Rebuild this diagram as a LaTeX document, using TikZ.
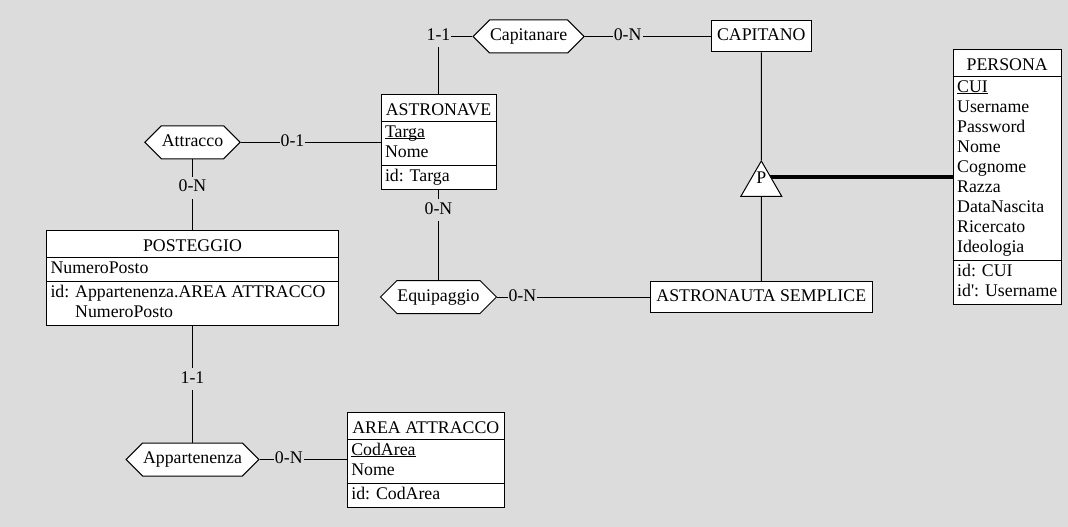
\documentclass[tikz,border=0pt]{standalone}
\usepackage{fontspec}
\setmainfont{Liberation Serif}
\usetikzlibrary{shapes.multipart, shapes.symbols, shapes.geometric}
\definecolor{canvas}{HTML}{DCDCDC}
\newcommand{\erfont}{\fontsize{17.8}{20}\selectfont}
\newcommand{\hdstrut}{\rule[-4.3pt]{0pt}{23pt}}
\newcommand{\keyattr}[1]{\setbox0\hbox{#1}\rlap{\rule[-1.6pt]{\wd0}{1pt}}\box0}
\tikzset{
  entity/.style={rectangle split, rectangle split parts=3, rectangle split part align={center,left,left}, draw, fill=white, inner xsep=4pt, inner ysep=1.5pt, align=left, font=\erfont},
  entbox/.style={rectangle, draw, fill=white, inner xsep=4pt, minimum height=31pt, font=\erfont},
  relation/.style={signal, signal to=east and west, signal pointer angle=90, draw, fill=white, inner xsep=0.5pt, inner ysep=6.5pt, font=\erfont},
  card/.style={fill=canvas, inner sep=1pt, text height=14pt, text depth=6pt, font=\erfont},
  gentri/.style={regular polygon, regular polygon sides=3, draw, fill=white, minimum size=47.3pt, inner sep=0pt, font=\erfont},
  isa/.style={line width=4pt},
}
\begin{document}
\begin{tikzpicture}[x=1pt, y=-1pt, line width=1pt]
\fill[canvas] (0,0) rectangle (1068,527);
\useasboundingbox (0,0) rectangle (1068,527);
% entities
\node[entity, minimum width=115pt, anchor=north] (astronave) at (438.5,94.3)
  {\hdstrut ASTRONAVE\nodepart{two}\strut\keyattr{Targa}\\\strut Nome\nodepart{three}\strut id: Targa};
\node[entity, minimum width=292pt, anchor=north] (posteggio) at (192.5,230)
  {\hdstrut POSTEGGIO\nodepart{two}\strut NumeroPosto\nodepart{three}\strut id: Appartenenza.AREA ATTRACCO\\\strut\phantom{id: }NumeroPosto};
\node[entity, minimum width=157pt, anchor=north] (areaattracco) at (425.8,412.3)
  {\hdstrut AREA ATTRACCO\nodepart{two}\strut\keyattr{CodArea}\\\strut Nome\nodepart{three}\strut id: CodArea};
\node[entity, minimum width=108pt, anchor=north] (persona) at (1007.2,49.3)
  {\hdstrut PERSONA\nodepart{two}\strut\keyattr{CUI}\\\strut Username\\\strut Password\\\strut Nome\\\strut Cognome\\\strut Razza\\\strut DataNascita\\\strut Ricercato\\\strut Ideologia\nodepart{three}\strut id: CUI\\\strut id\textquotesingle: Username};
\node[entbox, minimum width=100pt] (capitano) at (761.3,36.5) {\strut CAPITANO};
\node[entbox, minimum width=222pt] (astrosemplice) at (761.3,297) {\strut ASTRONAUTA SEMPLICE};
% relationships
\node[relation] (capitanare) at (528.6,36.5) {\strut Capitanare};
\node[relation] (attracco) at (192.5,142.3) {\strut Attracco};
\node[relation] (equipaggio) at (438.5,297) {\strut Equipaggio};
\node[relation] (appartenenza) at (192.5,459.5) {\strut Appartenenza};
% generalization
\coordinate (gen) at (761.3,184.6);
\draw[isa] (persona.west) -- (persona.west -| gen);
\node[gentri] (tri) at (gen) {\raisebox{0.9pt}[0pt][0pt]{P}};
\draw (capitano.south) -- (tri.north);
\draw (tri.south) -- (astrosemplice.north);
% links
\draw (astronave.north) |- node[card]{1-1} (capitanare.west);
\draw (capitanare.east) -- node[card, pos=0.34]{0-N} (capitano.west);
\draw (attracco.east) -- node[card, pos=0.37]{0-1} (attracco.east -| astronave.west);
\draw (attracco.south) -- node[card, pos=0.4]{0-N} (attracco.south |- posteggio.north);
\draw (astronave.south) -- node[card, pos=0.22]{0-N} (equipaggio.north);
\draw (equipaggio.east) -- node[card, pos=0.165]{0-N} (astrosemplice.west);
\draw (posteggio.south) -- node[card, pos=0.456]{1-1} (appartenenza.north);
\draw (appartenenza.east) -- node[card, pos=0.335]{0-N} (appartenenza.east -| areaattracco.west);
\end{tikzpicture}
\end{document}
